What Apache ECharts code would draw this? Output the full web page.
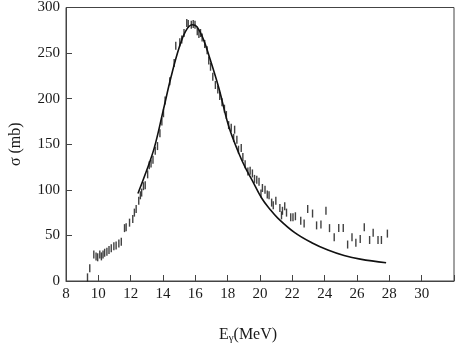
<!DOCTYPE html>
<html>
<head>
<meta charset="utf-8">
<script src="https://cdn.jsdelivr.net/npm/echarts@6/dist/echarts.min.js"></script>
<style>
  html, body { margin: 0; padding: 0; background: #fff; }
  #chart { width: 457px; height: 349px; }
</style>
</head>
<body>
<div id="chart"></div>
<script>
// measured cross sections (E in MeV, sigma in mb)
const dataE = [
  9.33, 9.47, 9.72, 9.86, 9.96, 10.09, 10.19, 10.29, 10.39, 10.53, 10.66, 10.8, 10.96, 11.1, 11.27, 11.42,
  11.62, 11.72, 11.93, 12.13, 12.23, 12.34, 12.5, 12.6, 12.68, 12.79, 12.9, 13.05, 13.15, 13.26, 13.38,
  13.52, 13.66, 13.81, 13.93, 14.03, 14.13, 14.42, 14.69, 14.79, 15.04, 15.16, 15.3, 15.47, 15.56, 15.75,
  15.87, 15.98, 16.12, 16.22, 16.32, 16.42, 16.58, 16.73, 16.83, 16.94, 17.08, 17.24, 17.39, 17.51, 17.65,
  17.8, 17.92, 18.06, 18.22, 18.37, 18.43, 18.57, 18.67, 18.84, 18.94, 19.08, 19.25, 19.39, 19.53, 19.66,
  19.8, 19.94, 20.06, 20.15, 20.31, 20.45, 20.56, 20.72, 20.82, 20.98, 21.23, 21.33, 21.39, 21.53, 21.64,
  21.9, 22.04, 22.19, 22.52, 22.73, 22.95, 23.25, 23.5, 23.77, 24.08, 24.3, 24.59, 24.87, 25.15, 25.42,
  25.69, 25.93, 26.2, 26.45, 26.78, 27.0, 27.3, 27.51, 27.88
];
const dataSigma = [
  4, 14, 29, 27, 26, 29, 27, 29, 31, 32, 34, 36, 38, 39, 41, 43,
  58, 59, 64, 68, 75, 79, 88, 94, 97, 104, 105, 117, 127, 129, 133,
  143, 148, 162, 175, 184, 198, 219, 239, 258, 262, 265, 272, 283, 282, 281,
  282, 281, 274, 271, 272, 267, 260, 253, 242, 235, 224, 215, 210, 203, 196,
  189, 182, 171, 168, 157, 166, 155, 144, 146, 136, 128, 120, 121, 118, 112,
  111, 109, 96, 102, 100, 95, 94, 86, 83, 88, 80, 72, 77, 82, 75,
  70, 70, 71, 66, 63, 79, 74, 61, 62, 77, 58, 48, 58, 58, 40,
  48, 42, 46, 59, 45, 53, 45, 45, 52
];

// fitted curve
const fitE = [12.45, 12.9, 13.46, 14.0, 14.5, 15.0, 15.4, 15.8, 16.1, 16.5, 16.9, 17.45, 18.06, 18.67,
  19.1, 19.5, 20.1, 20.6, 21.1, 22.15, 23.2, 24.2, 25.2, 26.2, 27.8];
const fitSigma = [96, 117, 146, 186, 224, 256, 274, 281, 279, 265, 244, 212, 170, 141,
  124, 111, 91, 79, 69, 53, 42, 34, 28, 24, 20];

const xTicks = [8, 10, 12, 14, 16, 18, 20, 22, 24, 26, 28, 30];
const yTicks = [0, 50, 100, 150, 200, 250, 300];

const font = "'Liberation Serif', 'DejaVu Serif', serif";
const ink = "#1a1a1a";

const chart = echarts.init(document.getElementById("chart"));

chart.setOption({
  animation: false,
  textStyle: { fontFamily: font },
  grid: {
    left: 66, right: 2, top: 5, bottom: 62,
    show: true, borderColor: "#444", borderWidth: 1, backgroundColor: "transparent",
  },
  xAxis: {
    type: "value",
    min: 8, max: 32, interval: 2,
    axisLine: { lineStyle: { color: "#444", width: 1 } },
    axisTick: { inside: true, length: 6, lineStyle: { color: "#444" } },
    splitLine: { show: false },
    axisLabel: {
      color: ink, fontSize: 15, fontFamily: font, margin: 6,
      formatter: (v) => (xTicks.includes(v) ? String(v) : ""),
    },
    name: "{e|E}{s|γ}{e|(MeV)}",
    nameLocation: "middle",
    nameGap: 44,
    nameTextStyle: {
      padding: [0, 24, 0, 0],
      rich: {
        e: { fontSize: 16, fontFamily: font, color: ink },
        s: { fontSize: 11, fontFamily: font, color: ink, verticalAlign: "bottom", padding: [8, 0, 0, 0] },
      },
    },
  },
  yAxis: {
    type: "value",
    min: 0, max: 300, interval: 50,
    axisLine: { show: true, lineStyle: { color: "#444", width: 1 } },
    axisTick: { show: true, inside: true, length: 6, lineStyle: { color: "#444" } },
    splitLine: { show: false },
    axisLabel: {
      color: ink, fontSize: 15, fontFamily: font, margin: 6,
      formatter: (v) => (yTicks.includes(v) ? String(v) : ""),
    },
    name: "σ (mb)",
    nameLocation: "middle",
    nameGap: 42,
    nameRotate: 90,
    nameTextStyle: { fontSize: 16, fontFamily: font, color: ink },
  },
  series: [
    {
      type: "scatter",
      data: dataE.map((e, i) => [e, dataSigma[i]]),
      symbol: "rect",
      symbolSize: [1.4, 8],
      itemStyle: { color: "#111" },
    },
    {
      type: "line",
      data: fitE.map((e, i) => [e, fitSigma[i]]),
      smooth: 0.4,
      showSymbol: false,
      lineStyle: { color: "#111", width: 1.6 },
    },
  ],
});
</script>
</body>
</html>
